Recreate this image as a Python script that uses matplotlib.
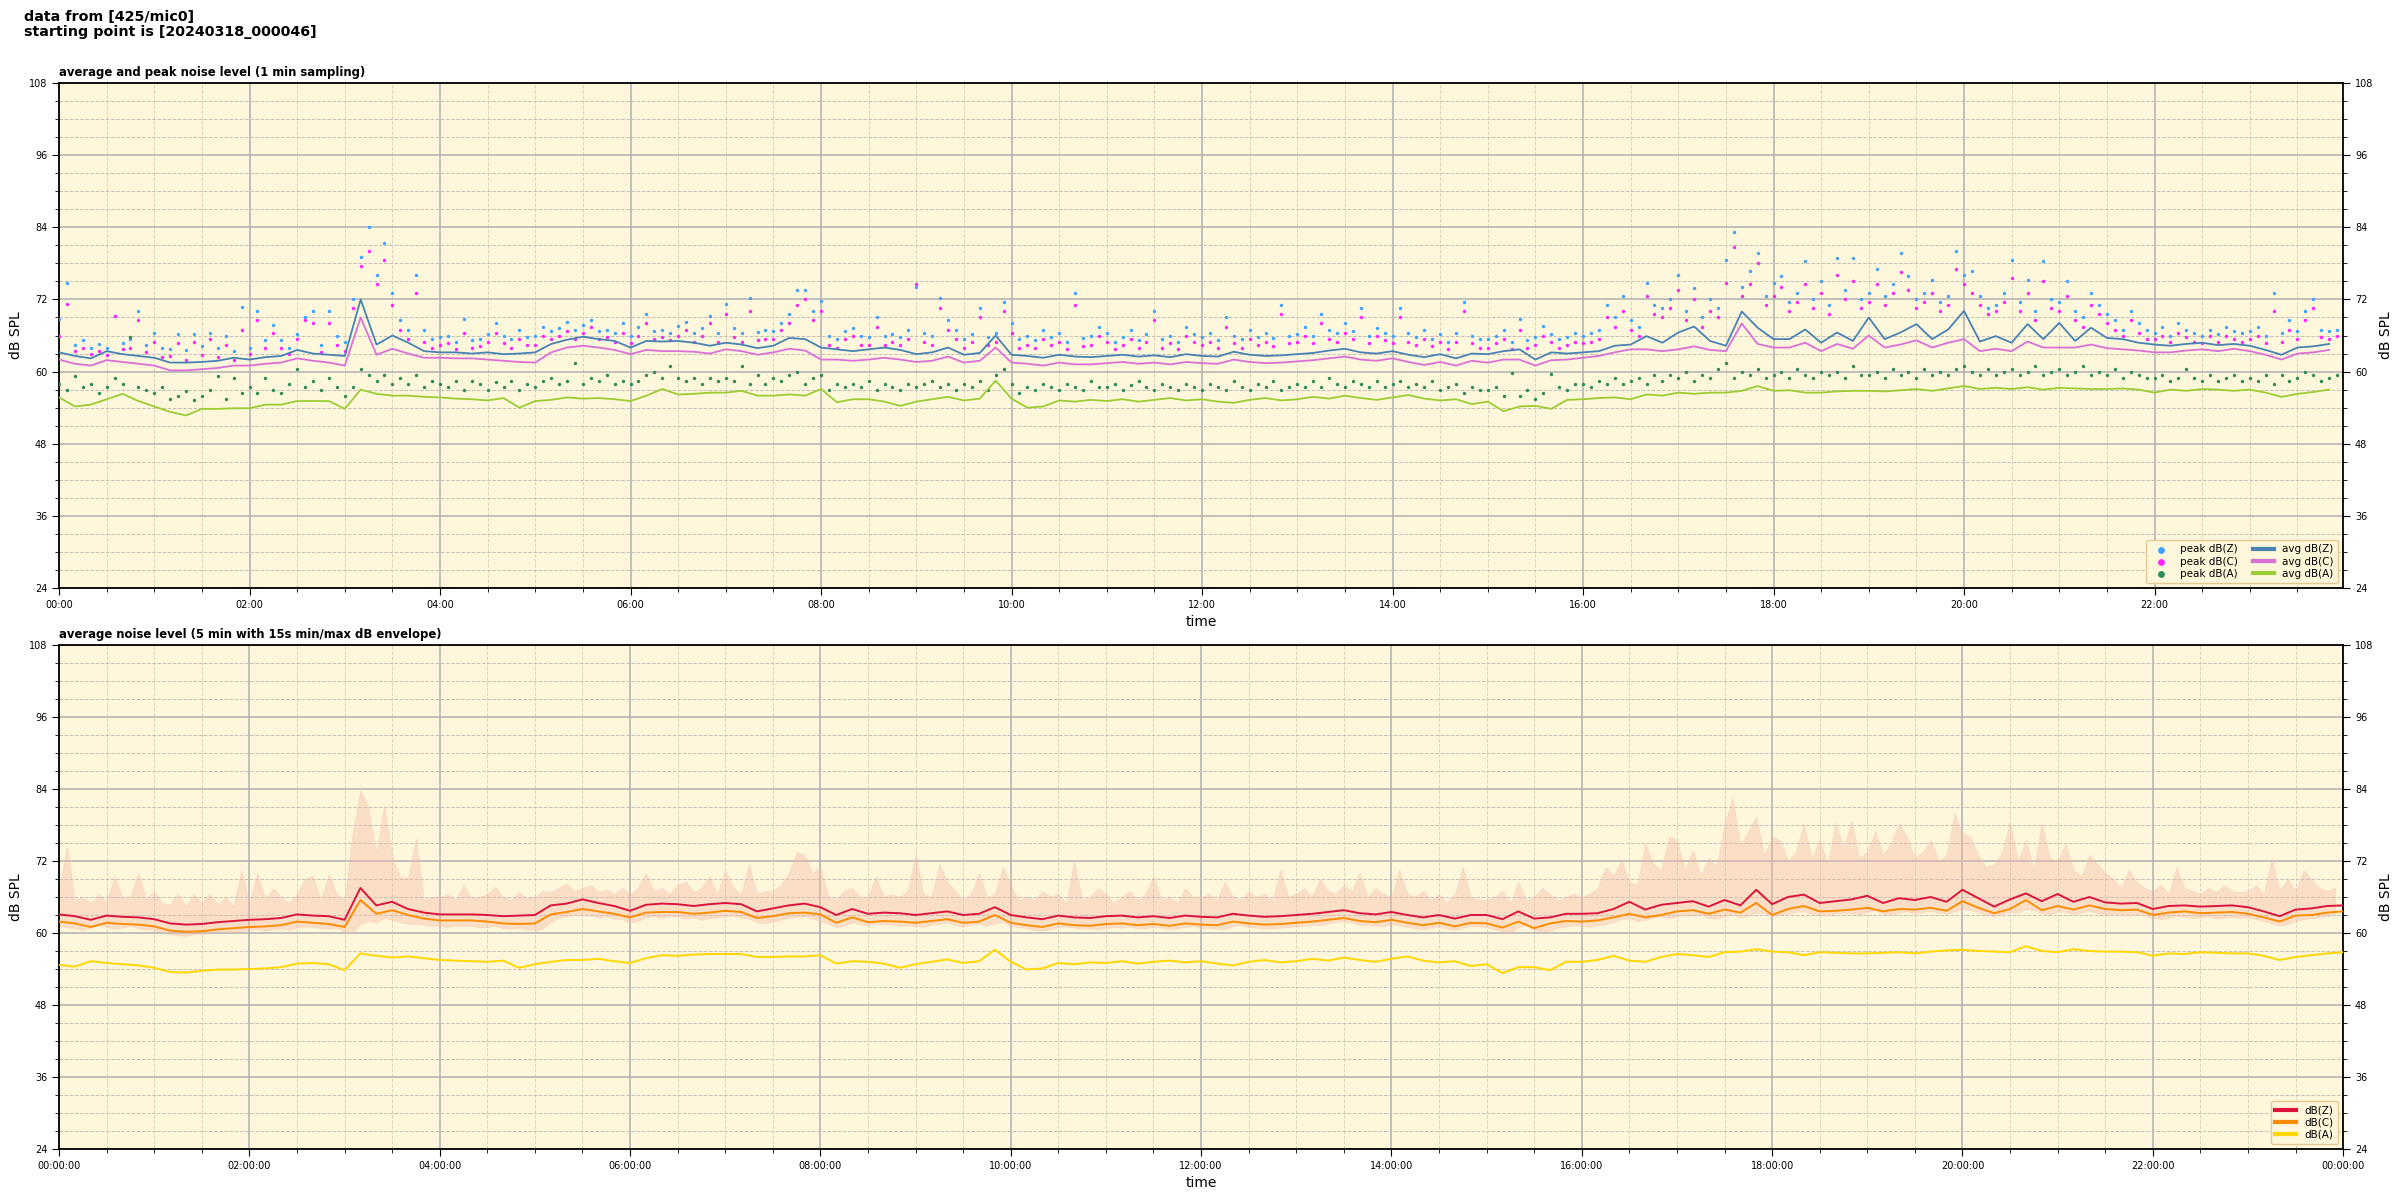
import numpy as np
import matplotlib
matplotlib.use("Agg")
import matplotlib.pyplot as plt
from matplotlib.ticker import MultipleLocator, FuncFormatter

# ---------------- data ----------------
# top panel: 10-min averages (144 values each)
avg_z = [
    63.2, 62.6, 62.2, 63.4, 62.9, 62.6,
    62.3, 61.5, 61.5, 61.6, 61.8, 62.3,
    62.0, 62.4, 62.6, 63.6, 63.0, 62.8,
    62.6, 72.0, 64.5, 66.0, 64.8, 63.4,
    63.2, 63.2, 63.0, 63.2, 62.9, 63.0,
    63.2, 64.6, 65.3, 65.8, 65.4, 65.1,
    64.0, 65.1, 65.0, 65.1, 64.8, 64.3,
    64.8, 64.5, 63.9, 64.3, 65.6, 65.4,
    64.0, 63.7, 63.4, 63.7, 64.0, 63.6,
    62.9, 63.2, 64.0, 62.8, 63.1, 66.0,
    62.8, 62.6, 62.3, 62.8, 62.5, 62.4,
    62.6, 62.8, 62.5, 62.7, 62.4, 62.9,
    62.6, 62.5, 63.3, 62.8, 62.6, 62.7,
    62.9, 63.1, 63.5, 63.8, 63.2, 63.0,
    63.4, 62.8, 62.4, 62.9, 62.2, 63.0,
    62.9, 63.4, 63.7, 62.0, 63.2, 63.0,
    63.2, 63.4, 64.3, 64.5, 65.9, 64.8,
    66.5, 67.5, 65.1, 64.3, 70.0, 67.3,
    65.4, 65.4, 67.0, 64.8, 66.5, 65.1,
    69.0, 65.4, 66.5, 67.9, 65.4, 67.0,
    70.1, 65.0, 65.9, 64.8, 67.9, 65.4,
    68.1, 65.1, 67.3, 65.6, 65.4, 64.8,
    64.5, 64.3, 64.6, 64.8, 64.4, 64.6,
    64.3, 63.6, 62.8, 64.0, 64.2, 64.6,
]
avg_c = [
    62.0, 61.3, 61.0, 61.9, 61.6, 61.3,
    61.0, 60.2, 60.2, 60.4, 60.6, 61.0,
    61.0, 61.3, 61.5, 62.2, 61.8, 61.5,
    61.0, 69.0, 62.8, 63.8, 63.0, 62.3,
    62.3, 62.2, 62.2, 62.0, 61.8, 61.6,
    61.5, 63.2, 64.0, 64.3, 64.0, 63.6,
    62.9, 63.6, 63.4, 63.4, 63.3, 63.0,
    63.7, 63.4, 62.8, 63.2, 63.8, 63.5,
    62.0, 62.0, 61.8, 62.0, 62.3, 62.0,
    61.6, 61.8, 62.5, 61.5, 61.8, 64.0,
    61.5, 61.3, 61.0, 61.5, 61.2, 61.2,
    61.4, 61.6, 61.3, 61.5, 61.2, 61.6,
    61.4, 61.3, 62.0, 61.6, 61.4, 61.5,
    61.7, 61.9, 62.2, 62.5, 62.0, 61.8,
    62.2, 61.6, 61.1, 61.6, 61.0, 61.8,
    61.5, 62.0, 62.0, 61.0, 61.9, 62.0,
    62.3, 62.6, 63.2, 63.7, 63.7, 63.4,
    63.7, 64.2, 63.6, 63.4, 68.0, 64.6,
    64.0, 64.0, 64.8, 63.4, 64.6, 63.8,
    66.0, 64.0, 64.5, 65.2, 64.0, 64.8,
    65.4, 63.4, 63.8, 63.4, 65.0, 64.0,
    64.0, 64.0, 64.5, 63.9, 63.7, 63.5,
    63.2, 63.2, 63.5, 63.7, 63.4, 63.8,
    63.4, 62.8, 62.0, 63.0, 63.2, 63.6,
]
avg_a = [
    55.7, 54.2, 54.5, 55.4, 56.3, 55.1,
    54.2, 53.3, 52.7, 53.8, 53.8, 53.9,
    53.9, 54.5, 54.5, 55.1, 55.1, 55.1,
    53.8, 57.0, 56.3, 56.0, 56.0, 55.8,
    55.7, 55.5, 55.4, 55.2, 55.6, 54.0,
    55.1, 55.3, 55.7, 55.5, 55.6, 55.4,
    55.1, 56.0, 57.1, 56.2, 56.3, 56.5,
    56.5, 56.8, 56.0, 56.0, 56.2, 56.0,
    57.1, 54.9, 55.4, 55.4, 55.0, 54.3,
    55.0, 55.4, 55.8, 55.2, 55.5, 58.5,
    55.5, 54.0, 54.2, 55.2, 55.0, 55.3,
    55.1, 55.4, 55.0, 55.3, 55.6, 55.2,
    55.4, 55.0, 54.8, 55.3, 55.6, 55.2,
    55.4, 55.8, 55.5, 56.0, 55.6, 55.3,
    55.7, 56.1, 55.5, 55.2, 55.4, 54.6,
    55.0, 53.4, 54.2, 54.3, 53.8, 55.3,
    55.4, 55.6, 55.7, 55.4, 56.2, 56.0,
    56.5, 56.3, 56.5, 56.5, 56.8, 57.6,
    56.8, 56.9, 56.5, 56.5, 56.7, 56.8,
    56.8, 56.7, 56.9, 57.1, 56.8, 57.2,
    57.6, 57.1, 57.3, 57.1, 57.4, 57.0,
    57.3, 57.2, 57.1, 57.1, 57.2, 57.0,
    56.5, 57.0, 56.8, 57.1, 57.0, 56.8,
    57.0, 56.5, 55.8, 56.3, 56.6, 57.0,
]

# top panel: 5-min peaks (288 values each)
peak_z = [
    68.8, 74.7, 64.5, 65.2, 64.0, 64.6, 63.9, 69.3, 64.8, 65.4, 70.0, 64.5,
    66.5, 64.0, 63.8, 66.2, 63.6, 66.3, 64.2, 66.4, 64.0, 65.9, 63.5, 70.8,
    64.0, 70.0, 65.2, 67.7, 65.2, 64.0, 66.3, 69.0, 70.0, 64.5, 70.0, 66.0,
    65.0, 72.0, 79.0, 84.0, 76.0, 81.4, 73.0, 68.5, 67.0, 76.0, 67.0, 65.5,
    65.8, 66.0, 65.0, 68.7, 65.3, 65.5, 66.3, 68.1, 66.0, 65.4, 67.0, 65.8,
    66.0, 67.5, 66.8, 67.3, 68.3, 67.0, 67.8, 68.5, 66.8, 67.0, 66.5, 68.0,
    66.0, 67.5, 69.5, 66.8, 67.0, 66.5, 67.6, 68.3, 66.5, 67.2, 69.3, 66.5,
    71.2, 67.2, 66.5, 72.2, 66.6, 67.0, 66.8, 68.0, 69.5, 73.5, 73.5, 70.0,
    71.7, 66.0, 65.5, 66.8, 67.3, 66.0, 65.8, 69.0, 66.0, 66.3, 65.8, 67.0,
    74.0, 66.5, 66.0, 72.3, 68.5, 67.0, 65.4, 66.2, 70.5, 65.8, 66.5, 71.5,
    68.0, 65.5, 66.0, 65.2, 67.0, 65.8, 66.5, 65.0, 73.0, 65.6, 66.0, 67.5,
    66.5, 65.0, 65.8, 67.0, 65.2, 66.3, 70.0, 65.5, 66.0, 65.0, 67.5, 66.2,
    65.8, 66.5, 65.3, 69.0, 66.0, 65.5, 67.0, 65.8, 66.4, 65.6, 71.0, 66.0,
    66.2, 67.5, 66.0, 69.5, 67.0, 66.5, 68.0, 66.8, 70.5, 66.0, 67.2, 66.5,
    66.0, 70.5, 66.5, 65.8, 67.0, 65.5, 66.2, 65.0, 66.4, 71.5, 66.0, 65.4,
    65.5, 66.0, 67.0, 65.0, 68.7, 65.2, 65.8, 67.6, 66.2, 65.5, 65.8, 66.5,
    66.0, 66.5, 67.0, 71.0, 69.0, 72.5, 68.5, 67.5, 74.8, 71.0, 70.5, 72.0,
    76.1, 70.0, 73.9, 69.0, 72.0, 70.5, 78.6, 83.2, 74.0, 76.8, 79.7, 72.5,
    74.8, 75.9, 71.5, 73.0, 78.4, 72.0, 75.1, 71.0, 78.9, 73.5, 78.9, 72.0,
    73.0, 77.0, 72.5, 74.5, 79.7, 75.9, 72.0, 73.0, 75.3, 71.5, 72.5, 80.0,
    76.0, 76.7, 72.5, 70.5, 71.0, 73.0, 78.6, 71.5, 75.3, 70.0, 78.4, 72.0,
    71.5, 75.1, 70.0, 69.0, 73.1, 71.0, 69.5, 68.5, 67.0, 70.0, 68.0, 67.0,
    66.5, 67.5, 66.0, 68.0, 67.0, 66.5, 66.0, 67.0, 66.3, 67.5, 66.8, 66.5,
    66.8, 67.5, 66.0, 73.0, 66.5, 68.5, 66.8, 70.0, 72.0, 67.0, 66.8, 67.0,
]
peak_c = [
    66.0, 71.3, 63.5, 64.0, 63.0, 63.5, 62.8, 69.2, 63.8, 64.0, 68.5, 63.2,
    65.0, 62.5, 62.6, 64.8, 62.0, 65.0, 62.8, 65.5, 62.5, 64.5, 62.0, 67.0,
    63.0, 68.5, 64.0, 66.5, 64.0, 63.0, 65.5, 68.5, 68.0, 63.2, 68.0, 64.5,
    63.5, 70.5, 77.5, 80.0, 74.5, 78.5, 71.0, 67.0, 65.5, 73.0, 65.0, 64.0,
    64.5, 64.8, 63.8, 66.5, 64.0, 64.2, 65.0, 66.5, 64.8, 64.0, 65.5, 64.5,
    64.5, 66.0, 65.5, 66.0, 66.8, 65.5, 66.5, 67.5, 65.5, 65.8, 65.0, 66.5,
    64.8, 66.0, 68.0, 65.5, 65.8, 65.2, 66.0, 67.0, 65.0, 66.0, 68.0, 65.0,
    69.5, 65.8, 65.0, 70.0, 65.2, 65.5, 65.5, 67.0, 68.0, 71.0, 72.0, 68.5,
    70.0, 64.5, 64.0, 65.5, 66.0, 64.5, 64.5, 67.5, 64.5, 65.0, 64.5, 65.5,
    74.5, 65.0, 64.5, 70.5, 67.0, 65.5, 64.0, 65.0, 69.0, 64.5, 65.0, 70.0,
    66.5, 64.0, 64.5, 64.0, 65.5, 64.5, 65.0, 63.8, 71.0, 64.2, 64.5, 66.0,
    65.0, 63.8, 64.5, 65.5, 64.0, 65.0, 68.5, 64.0, 64.8, 63.8, 66.0, 65.0,
    64.5, 65.0, 64.0, 67.5, 64.8, 64.0, 65.5, 64.5, 65.0, 64.3, 69.5, 64.8,
    65.0, 66.0, 64.8, 68.0, 65.5, 65.0, 66.5, 65.5, 69.0, 64.8, 66.0, 65.2,
    64.8, 69.0, 65.0, 64.5, 65.5, 64.2, 65.0, 63.8, 65.0, 70.0, 64.8, 64.0,
    64.0, 64.8, 65.5, 63.8, 67.0, 64.0, 64.5, 66.0, 65.0, 64.0, 64.5, 65.0,
    64.8, 65.0, 65.5, 69.0, 67.5, 70.0, 67.0, 66.0, 72.5, 69.5, 69.0, 70.5,
    73.5, 68.5, 72.0, 67.5, 70.0, 69.0, 74.8, 80.8, 72.5, 74.5, 78.1, 71.0,
    72.5, 74.0, 70.0, 71.5, 74.5, 70.5, 73.0, 69.5, 76.0, 72.0, 75.0, 70.5,
    71.5, 74.5, 71.0, 73.0, 76.5, 73.5, 70.5, 71.5, 73.0, 70.0, 71.0, 77.0,
    74.5, 73.0, 71.0, 69.5, 70.0, 71.5, 75.5, 70.0, 73.0, 68.5, 75.0, 70.5,
    70.0, 72.5, 68.5, 67.5, 71.0, 69.5, 68.0, 67.0, 66.0, 68.5, 66.5, 65.5,
    65.5, 66.0, 65.0, 66.5, 65.8, 65.0, 64.8, 66.0, 65.0, 66.0, 65.5, 65.0,
    65.5, 66.0, 64.8, 70.0, 65.0, 67.0, 65.5, 68.5, 70.5, 65.8, 65.5, 66.0,
]
peak_a = [
    58.0, 57.0, 59.3, 57.5, 58.0, 56.5, 57.5, 59.0, 58.0, 65.7, 57.5, 57.0,
    56.5, 57.5, 55.5, 56.0, 56.8, 55.2, 56.0, 57.0, 59.3, 55.5, 59.0, 56.5,
    57.5, 56.5, 59.0, 57.0, 56.5, 58.0, 60.5, 57.5, 58.5, 57.0, 59.0, 57.5,
    56.0, 57.5, 60.5, 59.5, 58.5, 59.5, 58.0, 59.0, 58.0, 59.5, 57.5, 58.5,
    58.0, 57.5, 58.5, 57.0, 58.5, 58.0, 57.0, 58.2, 57.5, 58.5, 57.0, 58.0,
    57.5, 58.5, 59.0, 58.0, 58.5, 61.5, 58.0, 59.0, 58.5, 59.5, 58.0, 58.5,
    58.0, 58.5, 59.5, 60.0, 59.0, 61.0, 59.0, 58.5, 59.0, 58.0, 59.0, 58.5,
    59.0, 58.5, 61.0, 58.0, 59.5, 58.0, 59.0, 58.5, 59.5, 60.0, 58.0, 59.0,
    59.5, 57.0, 58.0, 57.5, 58.0, 57.5, 58.5, 57.0, 58.0, 57.5, 57.0, 58.0,
    57.5, 58.0, 58.5, 57.5, 58.0, 57.0, 58.0, 57.5, 58.5, 57.0, 59.5, 60.5,
    58.0, 56.5, 57.5, 57.0, 58.0, 57.5, 57.0, 58.0, 57.5, 57.0, 58.5, 57.5,
    57.5, 58.0, 57.0, 57.8, 58.5, 57.5, 57.0, 58.0, 57.5, 57.0, 58.0, 57.5,
    57.0, 58.0, 57.5, 57.0, 58.5, 57.5, 57.0, 58.0, 57.5, 58.5, 57.0, 57.5,
    58.0, 57.5, 58.5, 57.5, 59.0, 58.0, 57.5, 58.5, 58.0, 57.5, 58.5, 57.5,
    58.0, 58.5, 57.5, 58.0, 57.5, 58.5, 57.0, 57.5, 58.0, 56.5, 57.5, 57.0,
    57.0, 57.5, 56.0, 59.8, 56.0, 57.0, 55.5, 56.5, 59.6, 57.5, 57.0, 58.0,
    58.0, 57.5, 58.5, 58.0, 59.0, 58.0, 58.5, 59.0, 58.0, 59.5, 58.5, 59.5,
    59.0, 60.0, 58.5, 59.5, 59.0, 60.5, 61.5, 59.0, 60.0, 59.5, 60.5, 59.0,
    59.5, 60.0, 59.0, 60.5, 59.5, 59.0, 60.0, 59.5, 60.0, 59.0, 61.0, 59.5,
    59.5, 60.0, 59.0, 60.5, 59.5, 60.0, 59.0, 60.5, 59.5, 60.0, 59.5, 60.5,
    61.0, 60.0, 59.5, 60.5, 59.5, 60.0, 60.5, 59.5, 60.0, 61.0, 59.5, 60.0,
    60.5, 59.5, 60.0, 61.0, 59.5, 60.0, 59.5, 60.5, 59.0, 60.0, 59.5, 59.0,
    59.0, 59.5, 58.5, 59.0, 60.5, 59.0, 58.5, 59.5, 58.5, 59.0, 59.5, 58.5,
    59.0, 58.5, 59.5, 58.0, 59.5, 58.5, 59.0, 60.0, 59.5, 58.5, 59.0, 59.5,
]

# bottom panel: 10-min averages (145 values, last is 24:00)
lvl_z = [
    63.1, 62.8, 62.2, 62.9, 62.7, 62.6,
    62.3, 61.6, 61.4, 61.5, 61.8, 62.0,
    62.2, 62.3, 62.5, 63.1, 62.9, 62.8,
    62.2, 67.5, 64.6, 65.2, 64.0, 63.4,
    63.1, 63.1, 63.1, 63.0, 62.8, 62.9,
    63.0, 64.6, 64.9, 65.6, 65.0, 64.5,
    63.7, 64.7, 64.9, 64.8, 64.5, 64.8,
    65.0, 64.8, 63.6, 64.1, 64.6, 64.9,
    64.3, 63.0, 64.0, 63.2, 63.4, 63.3,
    63.0, 63.3, 63.6, 63.0, 63.2, 64.3,
    63.0, 62.6, 62.3, 62.9, 62.6, 62.5,
    62.8, 62.9, 62.6, 62.8, 62.5, 62.9,
    62.7, 62.6, 63.2, 62.9, 62.7, 62.8,
    63.0, 63.2, 63.5, 63.8, 63.3, 63.1,
    63.5, 63.0, 62.6, 63.0, 62.4, 63.0,
    63.0, 62.3, 63.6, 62.4, 62.6, 63.2,
    63.2, 63.3, 64.0, 65.2, 63.9, 64.7,
    65.0, 65.3, 64.4, 65.5, 64.6, 67.2,
    64.8, 66.0, 66.4, 65.0, 65.3, 65.6,
    66.2, 65.0, 65.8, 65.5, 66.0, 65.2,
    67.2, 65.8, 64.4, 65.6, 66.6, 65.3,
    66.5, 65.2, 66.0, 65.1, 64.9, 65.0,
    64.0, 64.5, 64.6, 64.4, 64.5, 64.6,
    64.3, 63.6, 62.8, 63.9, 64.1, 64.5,
    64.6,
]
lvl_c = [
    61.9, 61.6, 61.0, 61.7, 61.5, 61.4,
    61.1, 60.4, 60.2, 60.3, 60.6, 60.8,
    61.0, 61.1, 61.3, 61.9, 61.7, 61.5,
    61.0, 65.5, 63.2, 63.8, 63.0, 62.4,
    62.1, 62.1, 62.1, 61.9, 61.6, 61.5,
    61.6, 63.1, 63.5, 64.0, 63.6, 63.2,
    62.6, 63.4, 63.5, 63.5, 63.2, 63.4,
    63.7, 63.5, 62.5, 62.8, 63.3, 63.4,
    63.1, 61.7, 62.6, 61.8, 62.0, 61.9,
    61.7, 62.0, 62.3, 61.7, 61.9, 63.0,
    61.7, 61.3, 61.0, 61.6, 61.3, 61.2,
    61.5, 61.6, 61.3, 61.5, 61.2, 61.6,
    61.4, 61.3, 61.9, 61.6, 61.4, 61.5,
    61.7, 61.9, 62.2, 62.5, 62.0, 61.8,
    62.2, 61.7, 61.3, 61.7, 61.1, 61.7,
    61.6, 60.9, 61.9, 60.8, 61.6, 62.0,
    61.9, 62.1, 62.6, 63.2, 62.6, 63.0,
    63.6, 63.8, 63.2, 63.9, 63.4, 65.0,
    63.0, 64.0, 64.5, 63.6, 63.7, 63.9,
    64.2, 63.6, 64.0, 63.9, 64.2, 63.7,
    65.3, 64.2, 63.3, 64.0, 65.5, 63.8,
    64.5, 63.9, 64.6, 64.0, 63.8, 63.9,
    63.0, 63.4, 63.6, 63.3, 63.4, 63.5,
    63.2, 62.6, 61.9, 62.9, 63.0, 63.4,
    63.6,
]
lvl_a = [
    54.7, 54.4, 55.3, 55.0, 54.8, 54.6,
    54.2, 53.5, 53.4, 53.7, 53.9, 53.9,
    54.0, 54.1, 54.3, 54.9, 55.0, 54.8,
    53.8, 56.6, 56.2, 55.9, 56.1, 55.8,
    55.5, 55.4, 55.3, 55.2, 55.4, 54.2,
    54.8, 55.2, 55.5, 55.5, 55.7, 55.3,
    55.0, 55.8, 56.3, 56.2, 56.4, 56.5,
    56.5, 56.5, 56.0, 56.0, 56.1, 56.1,
    56.3, 54.9, 55.3, 55.2, 54.9, 54.2,
    54.8, 55.2, 55.6, 55.0, 55.3, 57.2,
    55.2, 53.9, 54.1, 55.0, 54.8, 55.1,
    55.0, 55.3, 54.9, 55.2, 55.4, 55.1,
    55.3, 54.9, 54.6, 55.2, 55.5, 55.1,
    55.3, 55.7, 55.4, 55.9, 55.5, 55.2,
    55.7, 56.1, 55.4, 55.1, 55.3, 54.5,
    54.8, 53.3, 54.3, 54.3, 53.8, 55.2,
    55.2, 55.5, 56.2, 55.4, 55.2, 56.0,
    56.5, 56.3, 56.0, 56.8, 56.9, 57.3,
    56.9, 56.8, 56.3, 56.8, 56.7, 56.6,
    56.6, 56.7, 56.8, 56.6, 56.9, 57.1,
    57.2, 57.0, 56.9, 56.8, 57.8, 57.0,
    56.8, 57.3, 57.0, 56.9, 56.9, 56.8,
    56.2, 56.6, 56.5, 56.8, 56.7, 56.6,
    56.6, 56.2, 55.5, 56.0, 56.3, 56.6,
    56.8,
]

# bottom panel: 15 s min/max envelope, 5-min steps (288 values)
env_hi = [
    67.0, 74.5, 65.5, 66.0, 65.0, 66.5, 65.2, 69.5, 65.8, 66.0, 70.0, 65.5,
    67.0, 65.0, 64.8, 66.5, 64.5, 66.5, 65.0, 66.5, 64.8, 66.0, 64.5, 70.5,
    65.0, 70.0, 65.5, 67.5, 66.0, 65.0, 66.5, 69.0, 69.5, 65.5, 69.8, 66.5,
    65.5, 76.6, 83.8, 81.0, 73.3, 81.3, 72.7, 69.4, 69.1, 75.8, 65.5, 66.0,
    66.0, 66.5, 65.5, 68.0, 65.8, 66.0, 66.5, 67.7, 66.0, 65.5, 66.8, 65.8,
    66.0, 67.0, 66.8, 67.5, 68.2, 67.0, 67.5, 68.0, 66.8, 67.2, 66.5, 67.5,
    66.5, 67.5, 70.0, 67.0, 67.5, 66.5, 68.0, 68.5, 66.8, 67.5, 69.5, 66.5,
    70.5, 67.5, 66.5, 71.5, 66.5, 67.0, 67.0, 68.0, 70.0, 73.5, 73.0, 70.0,
    71.0, 66.0, 65.5, 67.0, 67.5, 66.0, 66.0, 69.4, 66.0, 66.5, 66.0, 67.0,
    73.0, 66.5, 66.0, 71.5, 68.5, 67.0, 65.5, 66.5, 70.0, 66.0, 66.5, 71.0,
    68.0, 65.5, 66.0, 65.5, 67.0, 66.0, 66.5, 65.0, 72.0, 65.5, 66.0, 67.5,
    66.5, 65.0, 66.0, 67.0, 65.5, 66.5, 69.5, 65.5, 66.0, 65.0, 67.5, 66.0,
    66.0, 66.5, 65.5, 68.5, 66.0, 65.5, 67.0, 66.0, 66.5, 65.5, 70.5, 66.0,
    66.5, 67.5, 66.0, 69.0, 67.0, 66.5, 68.0, 67.0, 70.0, 66.0, 67.5, 66.5,
    66.0, 70.5, 66.5, 66.0, 67.0, 65.5, 66.5, 65.0, 66.5, 71.0, 66.0, 65.5,
    65.5, 66.0, 67.0, 65.0, 68.5, 65.5, 66.0, 67.5, 66.5, 65.5, 66.0, 66.5,
    66.0, 66.5, 67.5, 71.0, 69.5, 72.2, 68.5, 68.0, 75.0, 71.5, 70.5, 76.0,
    75.5, 70.5, 73.8, 69.5, 72.5, 71.0, 78.0, 82.6, 74.5, 77.0, 79.4, 73.0,
    76.0, 75.5, 72.0, 73.5, 78.3, 72.5, 75.5, 71.5, 78.5, 74.0, 78.8, 72.5,
    73.5, 77.0, 73.0, 75.0, 78.3, 76.0, 72.5, 73.5, 75.5, 72.0, 73.0, 80.0,
    76.6, 76.0, 73.0, 71.0, 71.5, 73.5, 78.5, 72.0, 75.5, 70.5, 78.3, 72.5,
    72.0, 74.9, 70.5, 69.5, 73.0, 71.5, 70.0, 69.0, 67.5, 70.5, 68.5, 67.5,
    67.0, 68.0, 66.5, 71.0, 67.5, 67.0, 66.5, 67.5, 66.8, 68.0, 67.0, 66.8,
    67.0, 68.0, 66.5, 72.5, 67.0, 69.0, 67.0, 70.5, 68.9, 67.5, 67.0, 67.5,
]
env_lo = [
    61.2, 61.0, 60.8, 60.5, 60.9, 61.3, 61.0, 60.7, 60.9, 61.2, 60.8, 60.6,
    60.5, 60.1, 59.8, 59.6, 59.5, 59.8, 59.9, 60.0, 60.2, 60.3, 60.1, 60.4,
    60.5, 60.7, 60.4, 60.6, 60.8, 60.5, 60.9, 61.1, 61.0, 60.8, 60.7, 60.9,
    60.2, 60.0, 61.5, 62.0, 61.8, 62.5, 62.2, 61.8, 61.5, 61.6, 61.4, 61.2,
    61.2, 61.0, 61.3, 61.1, 61.2, 60.9, 61.0, 61.2, 60.8, 60.7, 60.9, 60.6,
    60.4, 60.8, 61.8, 62.5, 62.8, 63.0, 63.2, 62.9, 62.6, 62.8, 62.4, 62.3,
    61.8, 62.0, 62.6, 62.8, 62.5, 62.9, 62.7, 62.4, 62.6, 62.2, 62.5, 62.6,
    62.8, 62.9, 62.6, 62.4, 61.8, 61.6, 61.9, 62.2, 62.5, 62.7, 62.8, 62.4,
    62.0, 61.5, 61.0, 61.2, 61.8, 61.5, 61.3, 61.6, 61.5, 61.4, 61.2, 61.3,
    61.2, 61.0, 61.4, 61.5, 61.8, 61.3, 61.1, 61.4, 61.5, 61.2, 61.6, 61.8,
    61.2, 61.0, 60.8, 60.5, 60.4, 60.6, 61.0, 61.1, 60.9, 60.7, 60.8, 60.6,
    60.8, 61.0, 60.9, 61.1, 60.7, 60.8, 61.0, 60.9, 60.6, 60.8, 61.0, 61.2,
    60.8, 60.9, 60.7, 60.6, 61.2, 61.3, 61.0, 60.9, 60.7, 60.8, 60.9, 61.0,
    61.1, 61.2, 61.4, 61.3, 61.6, 61.8, 62.0, 61.7, 61.4, 61.3, 61.2, 61.1,
    61.5, 61.3, 61.0, 60.8, 60.6, 60.9, 61.1, 60.8, 60.5, 60.9, 61.2, 61.1,
    61.0, 60.6, 60.2, 60.0, 61.0, 61.3, 60.5, 60.2, 60.4, 60.9, 61.1, 61.3,
    61.2, 61.0, 61.3, 61.5, 61.8, 62.3, 62.5, 62.0, 62.2, 62.6, 62.8, 62.5,
    62.8, 63.0, 62.9, 63.1, 62.5, 62.4, 62.8, 63.1, 62.6, 62.9, 63.5, 63.2,
    62.8, 63.0, 63.3, 63.5, 63.6, 63.2, 62.9, 63.0, 63.2, 63.4, 63.3, 63.1,
    63.5, 63.8, 63.2, 63.0, 63.4, 63.6, 63.3, 63.5, 63.7, 63.4, 63.2, 63.6,
    64.0, 63.8, 63.5, 63.0, 62.8, 63.2, 63.5, 63.4, 64.0, 63.8, 63.3, 63.1,
    63.6, 63.5, 63.2, 63.4, 63.7, 63.3, 63.1, 63.0, 63.2, 62.9, 63.1, 63.0,
    62.5, 62.3, 62.6, 62.8, 62.7, 62.5, 62.6, 62.8, 62.4, 62.6, 62.7, 62.5,
    62.6, 62.3, 62.0, 61.6, 61.2, 61.5, 62.0, 62.3, 62.5, 62.6, 62.8, 63.0,
]

suptitle_text = "data from [425/mic0]\nstarting point is [20240318_000046]"
top_title = "average and peak noise level (1 min sampling)"
bottom_title = "average noise level (5 min with 15s min/max dB envelope)"
y_ticks = [24, 36, 48, 60, 72, 84, 96, 108]

# ---------------- plotting ----------------
BG = "#fff7dc"
plt.rcParams["font.family"] = ["DejaVu Sans"]

fig = plt.figure(figsize=(24, 12), dpi=100)
fig.text(0.010, 0.992, suptitle_text, fontsize=10.3, fontweight="bold",
         va="top", ha="left", linespacing=1.1)

ax1 = fig.add_axes([0.0246, 0.510, 0.9517, 0.4208])
ax2 = fig.add_axes([0.0246, 0.0425, 0.9517, 0.4200])

t10 = np.arange(len(avg_z)) / 6.0
t5 = np.arange(len(peak_z)) / 12.0
tb = np.arange(len(lvl_z)) / 6.0
te = np.arange(len(env_hi)) / 12.0


def hm(v, pos):
    v = round(v * 60)
    return f"{(v // 60) % 24:02d}:{v % 60:02d}"


def hms(v, pos):
    return hm(v, pos) + ":00"


def style(ax, xmax, fmt):
    ax.set_facecolor(BG)
    ax.set_xlim(0, xmax)
    ax.set_ylim(24, 108)
    ax.set_yticks(y_ticks)
    ax.yaxis.set_minor_locator(MultipleLocator(3))
    ax.xaxis.set_major_locator(MultipleLocator(2))
    ax.xaxis.set_minor_locator(MultipleLocator(0.5))
    ax.xaxis.set_major_formatter(FuncFormatter(fmt))
    ax.grid(which="major", color="#b0b0b0", linewidth=1.1, linestyle="-")
    ax.grid(which="minor", axis="y", color="#c4beb4", linewidth=0.7, linestyle="--")
    ax.grid(which="minor", axis="x", color="#dcd3bc", linewidth=0.7, linestyle="--")
    ax.set_axisbelow(True)
    ax.tick_params(which="both", labelsize=7, direction="out", colors="black")
    ax.tick_params(which="major", length=5)
    ax.tick_params(which="minor", length=3)
    for s in ax.spines.values():
        s.set_color("black")
        s.set_linewidth(1.3)
    ax.set_ylabel("dB SPL", fontsize=10)
    ax.set_xlabel("time", fontsize=10)
    tw = ax.twinx()
    tw.set_ylim(24, 108)
    tw.set_yticks(y_ticks)
    tw.yaxis.set_minor_locator(MultipleLocator(3))
    tw.tick_params(which="both", labelsize=7, direction="out")
    tw.tick_params(which="major", length=5)
    tw.tick_params(which="minor", length=3)
    tw.set_ylabel("dB SPL", fontsize=10)
    for s in tw.spines.values():
        s.set_visible(False)
    return tw


style(ax1, 23.98, hm)
style(ax2, 24.0, hms)

# top panel
s1 = ax1.scatter(t5, peak_z, s=6, color="#3fa2ff", linewidths=0, zorder=3, label="peak dB(Z)")
s2 = ax1.scatter(t5, peak_c, s=6, color="#ff22ff", linewidths=0, zorder=3, label="peak dB(C)")
s3 = ax1.scatter(t5, peak_a, s=6, color="#2e8b57", linewidths=0, zorder=3, label="peak dB(A)")
l1, = ax1.plot(t10, avg_z, color="#4682b4", lw=1.3, zorder=4, label="avg dB(Z)")
l2, = ax1.plot(t10, avg_c, color="#da70d6", lw=1.3, zorder=4, label="avg dB(C)")
l3, = ax1.plot(t10, avg_a, color="#9acd32", lw=1.3, zorder=4, label="avg dB(A)")
ax1.set_title(top_title, loc="left", fontsize=8.4, fontweight="bold", pad=5)
leg1 = ax1.legend(handles=[s1, s2, s3, l1, l2, l3], ncol=2, loc="lower right",
                  fontsize=7.5, markerscale=2.0, facecolor=BG, edgecolor="#e3c995",
                  framealpha=1.0, handlelength=2.0, columnspacing=1.5,
                  borderaxespad=0.5, labelspacing=0.2)
for h in leg1.get_lines():
    h.set_linewidth(3)

# bottom panel
ax2.fill_between(te, env_lo, env_hi, color="#f3b8a4", alpha=0.38, linewidth=0.6,
                 edgecolor="#f3c0ae", zorder=2)
b1, = ax2.plot(tb, lvl_z, color="#dc143c", lw=1.4, zorder=4, label="dB(Z)")
b2, = ax2.plot(tb, lvl_c, color="#ff8c00", lw=1.4, zorder=4, label="dB(C)")
b3, = ax2.plot(tb, lvl_a, color="#ffd700", lw=1.4, zorder=4, label="dB(A)")
ax2.set_title(bottom_title, loc="left", fontsize=8.4, fontweight="bold", pad=5)
leg2 = ax2.legend(handles=[b1, b2, b3], loc="lower right", fontsize=7.5,
                  facecolor=BG, edgecolor="#e3c995", framealpha=1.0,
                  handlelength=2.0, borderaxespad=0.5, labelspacing=0.2)
for h in leg2.get_lines():
    h.set_linewidth(3)

fig.savefig("out.png", dpi=100)
